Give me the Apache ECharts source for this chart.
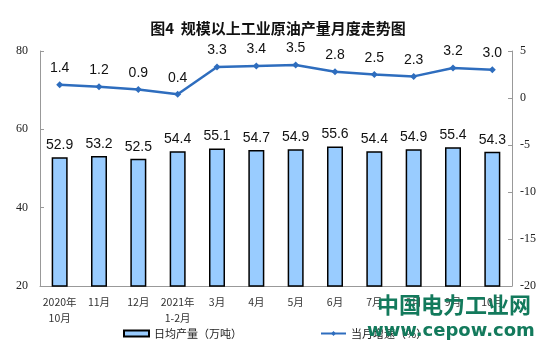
<!DOCTYPE html>
<html>
<head>
<meta charset="utf-8">
<script src="https://cdn.jsdelivr.net/npm/echarts@6/dist/echarts.min.js"></script>
<style>html,body{margin:0;padding:0;background:#fff}#c{width:554px;height:361px}</style>
</head>
<body>
<div id="c"></div>
<script>
const categories = ['2020年\n10月','11月','12月','2021年\n1-2月','3月','4月','5月','6月','7月','8月','9月','10月'];
const dailyOutput = [52.9, 53.2, 52.5, 54.4, 55.1, 54.7, 54.9, 55.6, 54.4, 54.9, 55.4, 54.3];
const growthRate = [1.4, 1.2, 0.9, 0.4, 3.3, 3.4, 3.5, 2.8, 2.5, 2.3, 3.2, 3.0];
const barName = '日均产量（万吨）';
const lineName = '当月增速（%）';

const chart = echarts.init(document.getElementById('c'), null, {renderer: 'canvas'});
const serif = '"Liberation Serif","DejaVu Serif",serif';
const cjk = '"Noto Sans CJK SC",sans-serif';
chart.setOption({
  animation: false,
  title: {
    text: '图4  规模以上工业原油产量月度走势图',
    left: 273, top: 16, textAlign: 'center',
    textStyle: {fontFamily: cjk, fontSize: 15, fontWeight: 'bold', color: '#111'}
  },
  legend: [
    {data: [{name: barName, icon: 'rect'}], left: 118, top: 323, itemWidth: 25, itemHeight: 6, itemGap: 5,
     textStyle: {fontFamily: cjk, fontSize: 11, color: '#222'}},
    {data: [lineName], left: 315, top: 323, itemWidth: 25, itemHeight: 6,
     textStyle: {fontFamily: cjk, fontSize: 11, color: '#222'}}
  ],
  grid: {left: 40, right: 42, top: 51, bottom: 75},
  xAxis: {
    type: 'category', data: categories,
    axisLine: {onZero: false, lineStyle: {color: '#999', width: 1}},
    axisTick: {inside: true, length: 4, lineStyle: {color: '#999'}},
    axisLabel: {fontFamily: cjk, fontSize: 10.5, color: '#333', margin: 8, lineHeight: 16, interval: 0}
  },
  yAxis: [
    {type: 'value', min: 20, max: 80, interval: 20, splitLine: {show: false},
     axisLine: {show: true, lineStyle: {color: '#999'}},
     axisTick: {show: true, inside: true, length: 4, lineStyle: {color: '#999'}},
     axisLabel: {fontFamily: serif, fontSize: 12, color: '#222', margin: 12}},
    {type: 'value', min: -20, max: 5, interval: 5, splitLine: {show: false},
     axisLine: {show: true, lineStyle: {color: '#999'}},
     axisTick: {show: true, inside: true, length: 4, lineStyle: {color: '#999'}},
     axisLabel: {fontFamily: serif, fontSize: 12, color: '#222', margin: 8}}
  ],
  series: [
    {name: barName, type: 'bar', data: dailyOutput, yAxisIndex: 0, barWidth: 16,
     itemStyle: {color: '#99CCFF', borderColor: '#000', borderWidth: 1.5},
     label: {show: true, position: 'top', distance: 5, fontFamily: '"Liberation Sans",Arial,sans-serif',
             fontSize: 14, color: '#111', formatter: p => p.value.toFixed(1)}},
    {name: lineName, type: 'line', data: growthRate, yAxisIndex: 1,
     symbol: 'diamond', symbolSize: 7,
     lineStyle: {color: '#2E6DBE', width: 2.5}, itemStyle: {color: '#2E6DBE'},
     label: {show: true, position: 'top', distance: 6, fontFamily: '"Liberation Sans",Arial,sans-serif',
             fontSize: 14, color: '#111', formatter: p => p.value.toFixed(1)}}
  ],
  graphic: [
    {type: 'text', left: 377, top: 294, z: 100,
     style: {text: '中国电力工业网', font: 'bold 22px "Noto Sans CJK SC"', fill: '#137A5C'}},
    {type: 'text', left: 367, top: 322, z: 100,
     style: {text: 'www.cepow.com', font: 'bold 18px "DejaVu Sans"', fill: '#137A5C'}}
  ]
});
</script>
</body>
</html>
